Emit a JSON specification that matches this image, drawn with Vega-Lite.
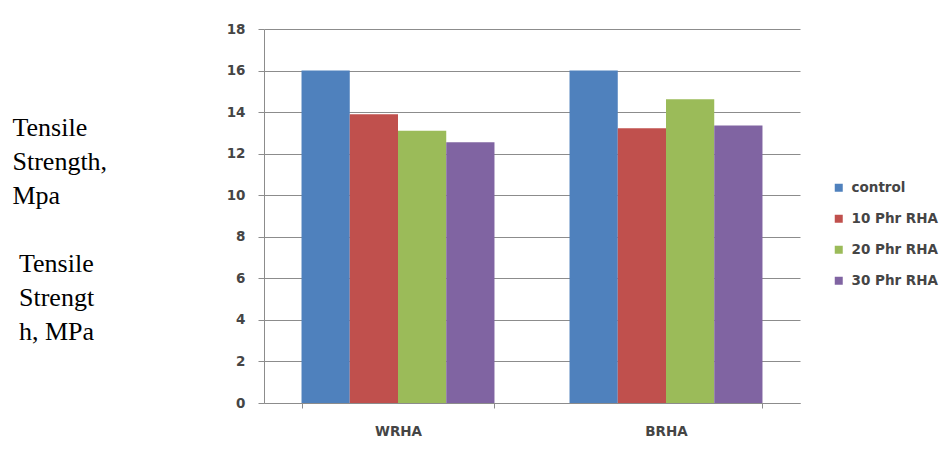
{
  "$schema": "https://vega.github.io/schema/vega-lite/v6.json",
  "width": 536,
  "height": 374,
  "autosize": "none",
  "padding": {"left": 264, "top": 29, "right": 145, "bottom": 50},
  "background": "white",
  "config": {"view": {"stroke": null}},
  "data": {"values": [
    {"group": "WRHA", "series": "control", "value": 16.0},
    {"group": "WRHA", "series": "10 Phr RHA", "value": 13.9},
    {"group": "WRHA", "series": "20 Phr RHA", "value": 13.1},
    {"group": "WRHA", "series": "30 Phr RHA", "value": 12.55},
    {"group": "BRHA", "series": "control", "value": 16.0},
    {"group": "BRHA", "series": "10 Phr RHA", "value": 13.22},
    {"group": "BRHA", "series": "20 Phr RHA", "value": 14.62},
    {"group": "BRHA", "series": "30 Phr RHA", "value": 13.36}
  ]},
  "mark": {"type": "bar"},
  "encoding": {
    "x": {
      "field": "group", "type": "nominal", "sort": ["WRHA", "BRHA"],
      "scale": {"paddingInner": 0.28, "paddingOuter": 0.14},
      "axis": {
        "title": null, "labelAngle": 0, "tickBand": "extent", "tickSize": 5,
        "tickColor": "#8c8c8c", "domainColor": "#8c8c8c", "labelPadding": 16,
        "labelFont": "DejaVu Sans", "labelFontWeight": "bold", "labelFontSize": 13.5,
        "labelColor": "#454545", "grid": false
      }
    },
    "xOffset": {"field": "series", "type": "nominal", "sort": ["control", "10 Phr RHA", "20 Phr RHA", "30 Phr RHA"], "scale": {"paddingInner": 0, "paddingOuter": 0}},
    "y": {
      "field": "value", "type": "quantitative",
      "scale": {"domain": [0, 18], "nice": false},
      "axis": {
        "values": [0, 2, 4, 6, 8, 10, 12, 14, 16, 18],
        "grid": true, "gridColor": "#8c8c8c", "gridOpacity": 1,
        "domainColor": "#8c8c8c", "tickColor": "#8c8c8c", "tickSize": 6,
        "labelPadding": 13, "labelFont": "DejaVu Sans", "labelFontWeight": "bold",
        "labelFontSize": 13.5, "labelColor": "#454545",
        "title": ["Tensile", "Strength,", "Mpa", "\u200b", "\u200b\u00a0Tensile", "\u200b\u00a0Strengt", "\u200b\u00a0h, MPa"],
        "titleAngle": 0, "titleX": -252, "titleY": 106, "titleAlign": "left",
        "titleBaseline": "alphabetic", "titleFont": "Liberation Serif", "titleFontSize": 26,
        "titleFontWeight": "normal", "titleColor": "#000000", "titleLineHeight": 34
      }
    },
    "color": {
      "field": "series", "type": "nominal",
      "sort": ["control", "10 Phr RHA", "20 Phr RHA", "30 Phr RHA"],
      "scale": {"domain": ["control", "10 Phr RHA", "20 Phr RHA", "30 Phr RHA"], "range": ["#4F81BD", "#C0504D", "#9BBB59", "#8064A2"]},
      "legend": {
        "title": null, "orient": "none", "legendX": 568, "legendY": 152, "padding": 0,
        "symbolType": "square", "symbolSize": 64, "symbolStrokeWidth": 0,
        "labelFont": "DejaVu Sans", "labelFontWeight": "bold", "labelFontSize": 13.5,
        "labelColor": "#454545", "labelOffset": 6, "rowPadding": 16
      }
    }
  }
}
